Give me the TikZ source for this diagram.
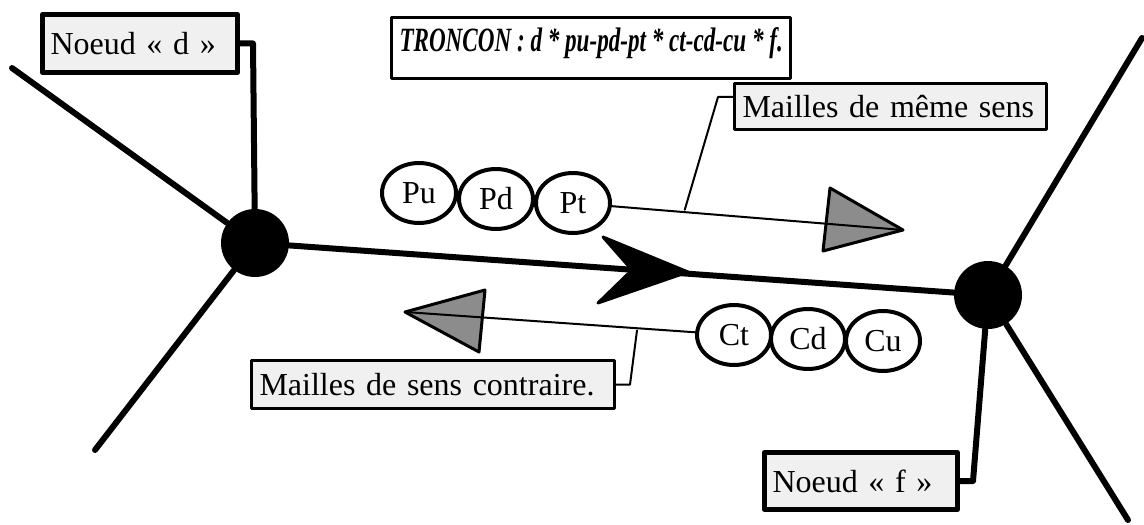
\documentclass[tikz,border=0pt]{standalone}
\usepackage{fontspec}
\setmainfont{Liberation Serif}
\usetikzlibrary{shapes.geometric,calc}
\definecolor{fondgris}{RGB}{240,240,240}
\definecolor{trigris}{RGB}{140,140,140}
\tikzset{
  noeud/.style={circle, fill=black, minimum size=34pt, inner sep=0pt},
  maille/.style={ellipse, draw, line width=2pt, minimum width=37pt, minimum height=30pt, inner sep=0pt},
  etiq/.style={draw, fill=fondgris, anchor=north west, align=left, inner xsep=4pt, inner ysep=0pt},
  troncon/.style={line width=3pt},
  fin/.style={line width=1pt},
  sens/.style={fill=trigris, draw, line width=1.5pt}
}
\begin{document}
\begin{tikzpicture}[x=0.5pt, y=-0.5pt, font=\fontsize{16}{19}\selectfont, line join=round, line cap=round]
\useasboundingbox (0,0) rectangle (1144,524);
% Les deux noeuds du tronçon
\node[noeud] (nd) at (255,243) {};
\node[noeud] (nf) at (988,295) {};
% Extrémités des autres tronçons
\coordinate (d1) at (12,68);
\coordinate (d2) at (95,450);
\coordinate (f1) at (1142,38);
\coordinate (f2) at (1128,520);
\draw[troncon] (d1) -- (nd) -- (d2);
\draw[troncon] (f1) -- (nf) -- (f2);
\draw[troncon] (nd) -- (nf);
% Flèche du sens du tronçon
\filldraw[line width=1.5pt] (688,272) -- (603,237) -- (632,270) -- (598,303) -- cycle;
% Mailles de même sens
\node[maille] (pu) at (419,193) {Pu};
\node[maille] (pd) at (496,199) {Pd};
\node[maille] (pt) at (573,203) {Pt};
\coordinate (tipd) at (903,230);
\filldraw[sens] (tipd) -- (830,188) -- (823,251) -- cycle;
\draw[fin] (pt) -- (tipd);
% Mailles de sens contraire
\node[maille] (ct) at (734,335) {Ct};
\node[maille] (cd) at (808,339) {Cd};
\node[maille] (cu) at (883,341) {Cu};
\coordinate (tipg) at (405,312);
\filldraw[sens] (tipg) -- (485,290) -- (479,352) -- cycle;
\draw[fin] (ct) -- (tipg);
% Étiquettes
\node[etiq, line width=2.5pt, text width=89.5pt, minimum height=29pt] (etd) at (40,12) {Noeud « d »};
\node[etiq, line width=2.5pt, text width=88.5pt, minimum height=28.5pt] (etf) at (762,450) {Noeud « f »};
\node[etiq, line width=1.5pt, text width=148pt, minimum height=23pt] (etm) at (733,82) {Mailles de même sens};
\node[etiq, line width=1.5pt, text width=173.5pt, minimum height=24pt] (etc) at (250,359) {Mailles de sens contraire.};
\node[draw, line width=1.5pt, anchor=north west, inner xsep=4pt, inner ysep=0pt, text height=17pt, text depth=13.5pt, font=\fontsize{17}{20}\selectfont\bfseries\itshape] (titre) at (390,16) {\scalebox{0.68}[1]{TRONCON : d * pu-pd-pt * ct-cd-cu * f.}};
% Renvois vers les étiquettes
\draw[troncon] (etd.east) -- ++(13,0) -- (nd);
\draw[troncon] (etf.east) -- ++(13,0) -- (nf);
\coordinate (cm1) at ($(pt.east)!0.25!(tipd)$);
\coordinate (cm1c) at (718,97);
\draw[fin] (cm1) -- (cm1c) -- (cm1c -| etm.west);
\coordinate (cm2) at ($(ct.west)!0.2!(tipg)$);
\draw[fin] (etc.east) -- ++(14,0) -- (cm2);
\end{tikzpicture}
\end{document}
